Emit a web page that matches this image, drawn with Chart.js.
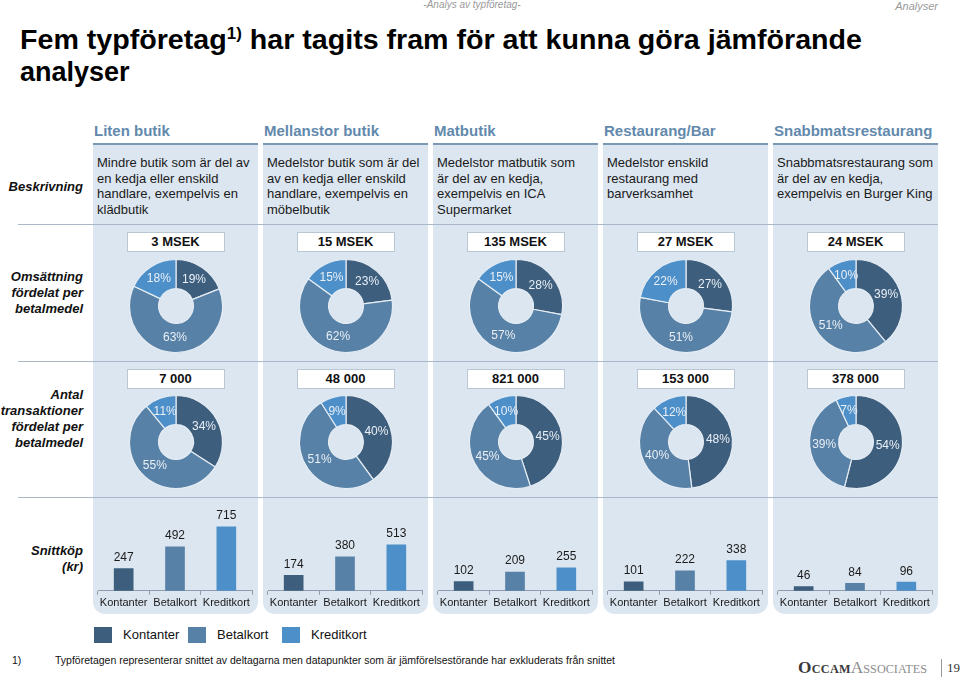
<!DOCTYPE html>
<html>
<head>
<meta charset="utf-8">
<script src="https://cdn.jsdelivr.net/npm/chart.js@4.4.0/dist/chart.umd.min.js"></script>
<style>
  body { margin:0; width:960px; height:678px; overflow:hidden; background:#fff;
         font-family:'Liberation Sans', Arial, sans-serif; position:relative; color:#111; }
  .abs { position:absolute; white-space:nowrap; }
  .panel { position:absolute; background:#dce6f0; border-radius:0 0 12px 12px; }
  .rowlbl { position:absolute; right:877px; text-align:right; font-weight:bold; font-style:italic;
            font-size:13px; line-height:16px; color:#111; }
  .box { position:absolute; width:96px; height:18px; background:#fff; border:1px solid #b9c6d3;
         font-weight:bold; font-size:13px; line-height:18px; text-align:center; color:#111; }
  .sep { position:absolute; left:18px; width:920px; height:1px; background:#a9b8c8; }
  canvas { position:absolute; }
</style>
</head>
<body>
<script>
// --- data ---
const kategorier = ['Kontanter', 'Betalkort', 'Kreditkort'];
const farger = ['#3e5e7d', '#5781a6', '#4d8fc8'];

const typforetag = ['Liten butik', 'Mellanstor butik', 'Matbutik', 'Restaurang/Bar', 'Snabbmatsrestaurang'];
const beskrivning = [
  ['Mindre butik som är del av', 'en kedja eller enskild', 'handlare, exempelvis en', 'klädbutik'],
  ['Medelstor butik som är del', 'av en kedja eller enskild', 'handlare, exempelvis en', 'möbelbutik'],
  ['Medelstor matbutik som', 'är del av en kedja,', 'exempelvis en ICA', 'Supermarket'],
  ['Medelstor enskild', 'restaurang med', 'barverksamhet'],
  ['Snabbmatsrestaurang som', 'är del av en kedja,', 'exempelvis en Burger King']
];

const omsattning = ['3 MSEK', '15 MSEK', '135 MSEK', '27 MSEK', '24 MSEK'];
// andel av omsättning (%), ordning: Kontanter, Betalkort, Kreditkort
const omsattningAndel = [
  [19, 63, 18],
  [23, 62, 15],
  [28, 57, 15],
  [27, 51, 22],
  [39, 51, 10]
];

const transaktioner = ['7 000', '48 000', '821 000', '153 000', '378 000'];
const transaktionAndel = [
  [34, 55, 11],
  [40, 51, 9],
  [45, 45, 10],
  [48, 40, 12],
  [54, 39, 7]
];

// snittköp (kr)
const snittkop = [
  [247, 492, 715],
  [174, 380, 513],
  [102, 209, 255],
  [101, 222, 338],
  [46, 84, 96]
];

Chart.defaults.font.family = "'Liberation Sans', Arial, sans-serif";

function el(tag, cls, css, html) {
  const e = document.createElement(tag);
  if (cls) e.className = cls;
  if (css) e.style.cssText = css;
  if (html !== undefined) e.innerHTML = html;
  document.body.appendChild(e);
  return e;
}

// squeeze a text element horizontally to a target width
function fitWidth(e, w) {
  e.style.display = 'inline-block';
  e.style.transformOrigin = 'left center';
  const cur = e.getBoundingClientRect().width;
  e.style.transform = 'scaleX(' + (w / cur) + ')';
}

// --- header texts ---
el('div', 'abs', 'left:0;width:944px;top:-1px;text-align:center;font-size:10px;font-style:italic;color:#9a9a9a', '-Analys av typföretag-');
el('div', 'abs', 'right:22px;top:0px;font-size:11px;font-style:italic;color:#9a9a9a', 'Analyser');
const t1 = el('div', 'abs', 'left:20px;top:25px;font-size:27px;line-height:30px;font-weight:bold;color:#000',
  'Fem typföretag<span style="font-size:16px;position:relative;top:-10px">1)</span> har tagits fram för att kunna göra jämförande');
fitWidth(t1, 842);
el('div', 'abs', 'left:20px;top:57px;font-size:27px;line-height:30px;font-weight:bold;color:#000', 'analyser');

// --- panels, headers, descriptions, boxes ---
typforetag.forEach((namn, i) => {
  const left = 93 + i * 170;
  const pc = left + 82.5;
  el('div', 'panel', `left:${left}px;top:145px;width:165px;height:469px`);
  el('div', 'abs', `left:${left}px;top:143px;width:165px;height:2px;background:#7b98b4`);
  el('div', 'abs', `left:${left + 1}px;top:122px;font-size:15px;line-height:18px;font-weight:bold;color:#6289ac`, namn);
  el('div', 'abs', `left:${left + 4}px;top:155px;font-size:13px;line-height:15.5px;color:#1a1a1a`, beskrivning[i].join('<br>'));
  el('div', 'box', `left:${pc - 49}px;top:232px`, omsattning[i]);
  el('div', 'box', `left:${pc - 49}px;top:369px`, transaktioner[i]);
});

[224, 361, 497].forEach(y => el('div', 'sep', `top:${y}px`));

el('div', 'rowlbl', 'top:179px', 'Beskrivning');
el('div', 'rowlbl', 'top:269px', 'Omsättning<br>fördelat per<br>betalmedel');
el('div', 'rowlbl', 'top:387px', 'Antal<br>transaktioner<br>fördelat per<br>betalmedel');
el('div', 'rowlbl', 'top:543px', 'Snittköp<br>(kr)');

// --- plugins ---
const donutLabels = {
  id: 'donutLabels',
  afterDatasetsDraw(chart) {
    const ctx = chart.ctx;
    const meta = chart.getDatasetMeta(0);
    const vals = chart.data.datasets[0].data;
    ctx.save();
    ctx.font = "12px 'Liberation Sans', Arial, sans-serif";
    ctx.fillStyle = '#e9eff6';
    ctx.textAlign = 'center';
    ctx.textBaseline = 'middle';
    meta.data.forEach((arc, k) => {
      const p = arc.getCenterPoint();
      ctx.fillText(vals[k] + '%', p.x, p.y);
    });
    ctx.restore();
  }
};

const barLabels = {
  id: 'barLabels',
  afterDatasetsDraw(chart) {
    const ctx = chart.ctx;
    const meta = chart.getDatasetMeta(0);
    const vals = chart.data.datasets[0].data;
    ctx.save();
    ctx.font = "12px 'Liberation Sans', Arial, sans-serif";
    ctx.fillStyle = '#1a1a1a';
    ctx.textAlign = 'center';
    ctx.textBaseline = 'bottom';
    meta.data.forEach((bar, k) => {
      ctx.fillText(String(vals[k]), bar.x, bar.y - 5);
    });
    ctx.restore();
  }
};

function makeCanvas(x, y, w, h) {
  const c = el('canvas', null, `left:${x}px;top:${y}px;width:${w}px;height:${h}px`);
  c.width = w; c.height = h;
  return c;
}

function drawDonut(canvas, vals) {
  new Chart(canvas, {
    type: 'doughnut',
    data: {
      labels: kategorier,
      datasets: [{ data: vals, backgroundColor: farger, borderColor: '#e4ecf4', borderWidth: 1.2 }]
    },
    options: {
      responsive: false,
      animation: false,
      radius: 46.5,
      cutout: 18.5,
      layout: { padding: 0 },
      plugins: { legend: { display: false }, tooltip: { enabled: false } }
    },
    plugins: [donutLabels]
  });
}

function drawBars(canvas, vals) {
  new Chart(canvas, {
    type: 'bar',
    data: {
      labels: kategorier,
      datasets: [{ data: vals, backgroundColor: farger, barThickness: 19 }]
    },
    options: {
      responsive: false,
      animation: false,
      layout: { padding: { left: 5, right: 6, top: 22, bottom: 2 } },
      plugins: { legend: { display: false }, tooltip: { enabled: false } },
      scales: {
        x: {
          grid: { display: true, drawOnChartArea: false, drawTicks: true, tickLength: 4, color: '#8e9dad', offset: true },
          border: { display: true, color: '#8e9dad' },
          ticks: { color: '#1a1a1a', font: { size: 11 }, padding: 2, maxRotation: 0, autoSkip: false }
        },
        y: { display: false, min: 0, max: 790 }
      }
    },
    plugins: [barLabels]
  });
}

typforetag.forEach((namn, i) => {
  const left = 93 + i * 170;
  const pc = left + 82.5;
  drawDonut(makeCanvas(pc - 50, 256, 100, 100), omsattningAndel[i]);
  drawDonut(makeCanvas(pc - 50, 392, 100, 100), transaktionAndel[i]);
  drawBars(makeCanvas(left, 498, 165, 116), snittkop[i]);
});

// --- legend ---
kategorier.forEach((k, i) => {
  const x = [94, 188, 282][i];
  el('div', 'abs', `left:${x}px;top:627px;width:18px;height:16px;background:${farger[i]}`);
  el('div', 'abs', `left:${x + 29}px;top:627px;font-size:13px;line-height:16px;color:#111`, k);
});

// --- footnote & logo ---
el('div', 'abs', 'left:12px;top:654px;font-size:10.5px;line-height:12px;color:#111', '1)');
const fn = el('div', 'abs', 'left:55px;top:654px;font-size:10.5px;line-height:12px;color:#111',
  'Typföretagen representerar snittet av deltagarna men datapunkter som är jämförelsestörande har exkluderats från snittet');
fitWidth(fn, 560);
const logo = el('div', 'abs', "left:798px;top:659px;font-family:'Liberation Serif',serif;font-variant:small-caps;font-size:17px;line-height:18px;color:#3a3a3a",
  '<b style="letter-spacing:0.3px">Occam</b><span style="color:#8d8d8d">Associates</span>');
fitWidth(logo, 129);
el('div', 'abs', 'left:941px;top:659px;width:1px;height:18px;background:#999');
el('div', 'abs', "left:947px;top:660px;font-family:'Liberation Serif',serif;font-size:13px;line-height:16px;color:#333", '19');
</script>
</body>
</html>
